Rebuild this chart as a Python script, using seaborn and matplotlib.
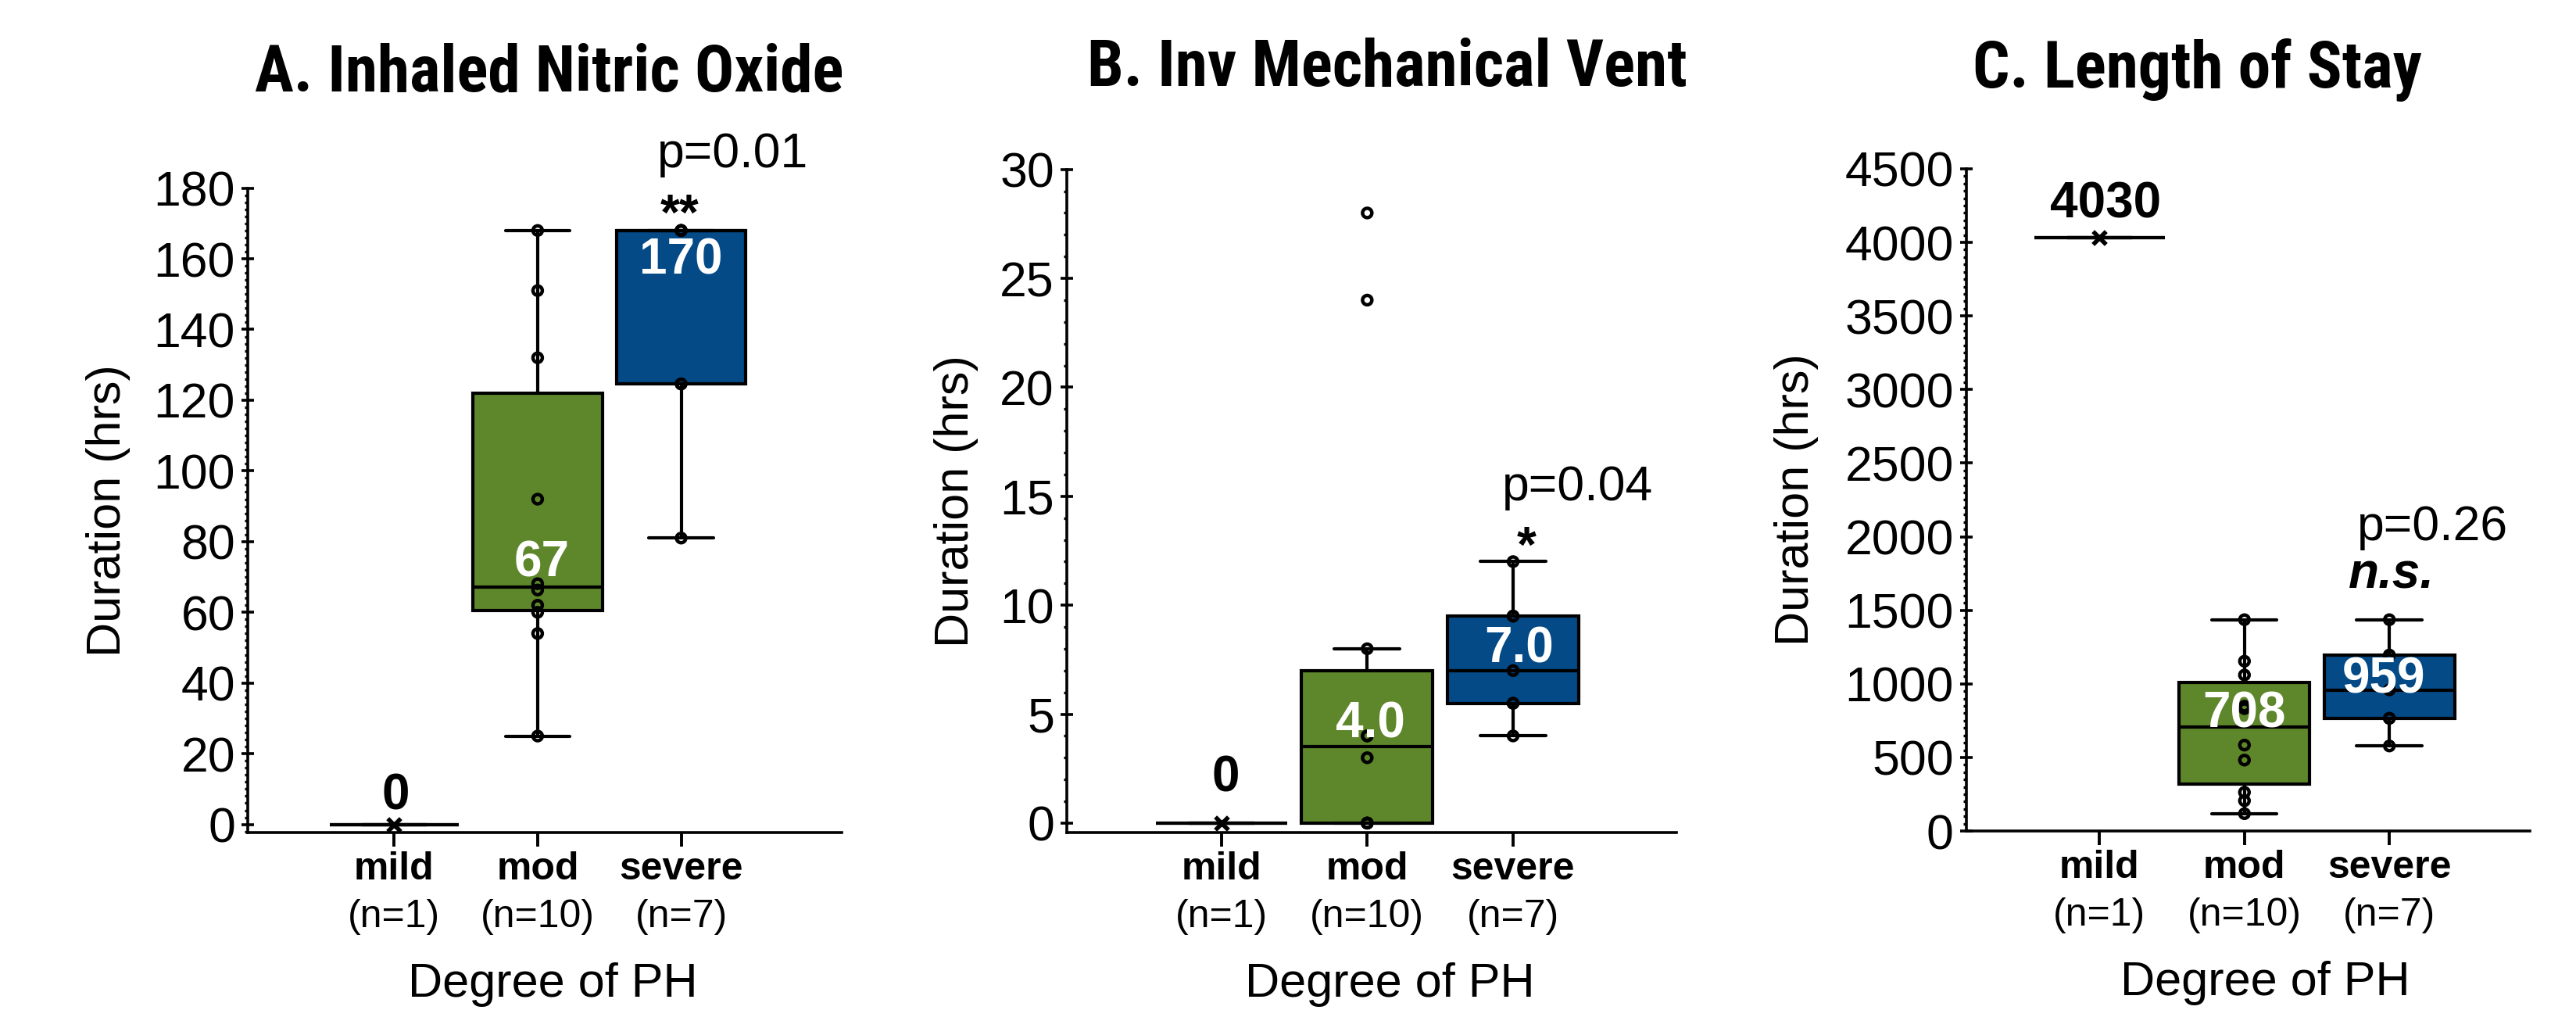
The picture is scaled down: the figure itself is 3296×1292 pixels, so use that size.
import matplotlib
matplotlib.use('Agg')
import matplotlib.pyplot as plt
from matplotlib.ticker import MultipleLocator, AutoMinorLocator
import seaborn as sns
import pandas as pd

# groups on the x axis
groups = ['mild', 'mod', 'severe']
group_colors = {'mild': 'white', 'mod': '#5E862A', 'severe': '#034A87'}

# A. inhaled nitric oxide, hours
ino_mild = [0]
ino_mod = [25, 54, 60, 62, 66.3, 68.1, 92, 132, 151, 168]
ino_severe = [81, 124.6, 124.6, 168, 168, 168, 168]

# B. invasive mechanical ventilation, hours
imv_mild = [0]
imv_mod = [0, 0, 0, 0, 3, 4, 4, 8, 24, 28]
imv_severe = [4, 5.5, 5.5, 7, 9.5, 9.5, 12]

# C. length of stay, hours
los_mild = [4030]
los_mod = [118, 206, 263, 482, 584, 832, 848, 1060, 1154, 1436]
los_severe = [578, 766, 766, 959, 1195, 1195, 1436]

# printed labels
titles = ['A. Inhaled Nitric Oxide', 'B. Inv Mechanical Vent', 'C. Length of Stay']
median_labels = [['0', '67', '170'], ['0', '4.0', '7.0'], ['4030', '708', '959']]
sig_labels = ['**', '*', 'n.s.']
p_labels = ['p=0.01', 'p=0.04', 'p=0.26']
y_tick_steps = [20, 5, 500]

panels = [
    (ino_mild, ino_mod, ino_severe),
    (imv_mild, imv_mod, imv_severe),
    (los_mild, los_mod, los_severe),
]

# layout (figure fractions, axis limits, text placements)
axes_rects = [
    [0.0962, 0.1757, 0.2306, 0.6381],
    [0.4141, 0.1760, 0.2367, 0.6563],
    [0.7633, 0.1772, 0.2188, 0.6557],
]
ylims = [(-2.3, 180), (-0.42, 30), (0, 4500)]
xlims = [(-1.02, 3.12), (-1.06, 3.12), (-0.92, 2.97)]
minor_div = [10, 5, 10]
title_pos = [(0.508, 1.178), (0.526, 1.152), (0.41, 1.149)]
ylabel_x = [-0.2355, -0.181, -0.301]
xlabel_pos = [(0.514, -0.2365), (0.53, -0.23), (0.53, -0.23)]
median_label_pos = [
    [(0.01, 8), (1.03, 73.8), (2.0, 159.4)],
    [(0.03, 2.07), (1.02, 4.52), (2.04, 7.98)],
    [(0.04, 4259), (1.0, 797), (1.96, 1029)],
]
sig_pos = [(1.99, 172), (2.09, 12.6), (2.015, 1738)]
p_pos = [(2.36, 189.5), (2.44, 15.4), (2.30, 2066)]

sns.set_style('ticks')
plt.rcParams['font.family'] = ['Liberation Sans', 'DejaVu Sans']
for key in ['text.color', 'axes.labelcolor', 'xtick.color', 'ytick.color', 'axes.edgecolor']:
    plt.rcParams[key] = 'black'

fig = plt.figure(figsize=(16.48, 6.46), dpi=200)

for k, (mild, mod, severe) in enumerate(panels):
    ax = fig.add_axes(axes_rects[k])
    df = pd.DataFrame({
        'group': ['mild'] * len(mild) + ['mod'] * len(mod) + ['severe'] * len(severe),
        'value': list(mild) + list(mod) + list(severe),
    })

    sns.boxplot(data=df, x='group', y='value', hue='group', order=groups,
                hue_order=groups, palette=group_colors, saturation=1,
                width=0.9, linecolor='black', linewidth=1.5,
                showfliers=False, legend=False, ax=ax)

    # individual points as small open circles (mild shown as an x)
    n_before = len(ax.collections)
    sns.stripplot(data=df[df.group != 'mild'], x='group', y='value', order=groups,
                  jitter=False, color='black', size=4.3, ax=ax)
    for c in ax.collections[n_before:]:
        c.set_facecolor('none')
        c.set_edgecolor('black')
        c.set_linewidth(1.6)
    sns.stripplot(data=df[df.group == 'mild'], x='group', y='value', order=groups,
                  jitter=False, color='black', marker='x', size=6, linewidth=2,
                  ax=ax)

    ax.set_xlim(*xlims[k])
    ax.yaxis.set_major_locator(MultipleLocator(y_tick_steps[k]))
    ax.yaxis.set_minor_locator(AutoMinorLocator(minor_div[k]))
    ax.set_ylim(*ylims[k])
    sns.despine(ax=ax)
    for s in ['left', 'bottom']:
        ax.spines[s].set_linewidth(1.3)
    ax.tick_params(axis='y', which='major', direction='inout', length=5.5,
                   width=1.3, labelsize=22.5, pad=3)
    ax.tick_params(axis='y', which='minor', direction='out', length=1.6, width=1.2)
    ax.tick_params(axis='x', which='major', direction='out', length=6.5,
                   width=1.4, labelbottom=False)

    # category names with group sizes
    for i, (g, vals) in enumerate(zip(groups, (mild, mod, severe))):
        ax.annotate(g, xy=(i, 0), xycoords=ax.get_xaxis_transform(),
                    xytext=(0, -17), textcoords='offset points',
                    ha='center', va='center', fontsize=18, fontweight='bold')
        ax.annotate(f'(n={len(vals)})', xy=(i, 0), xycoords=ax.get_xaxis_transform(),
                    xytext=(0, -39), textcoords='offset points',
                    ha='center', va='center', fontsize=18)

    ax.set_ylabel('Duration (hrs)', fontsize=22)
    ax.yaxis.set_label_coords(ylabel_x[k], 0.5)
    ax.yaxis.label.set_va('center')
    ax.set_xlabel('Degree of PH', fontsize=22)
    ax.xaxis.set_label_coords(*xlabel_pos[k])
    ax.xaxis.label.set_va('center')

    ax.set_title(titles[k], x=title_pos[k][0], y=title_pos[k][1], va='center',
                 pad=0, fontsize=30, fontweight='bold', fontstretch='condensed',
                 family=['Roboto Condensed', 'Liberation Sans Narrow', 'DejaVu Sans'])

    for i, lab in enumerate(median_labels[k]):
        col = 'black' if groups[i] == 'mild' else 'white'
        ax.text(*median_label_pos[k][i], lab, ha='center', va='center',
                color=col, fontsize=23, fontweight='bold')
    ax.text(*sig_pos[k], sig_labels[k], ha='center', va='center', fontsize=23,
            fontweight='bold', fontstyle='italic' if sig_labels[k] == 'n.s.' else 'normal')
    ax.text(*p_pos[k], p_labels[k], ha='center', va='center', fontsize=22.5)

fig.savefig('out.png', dpi=200)
